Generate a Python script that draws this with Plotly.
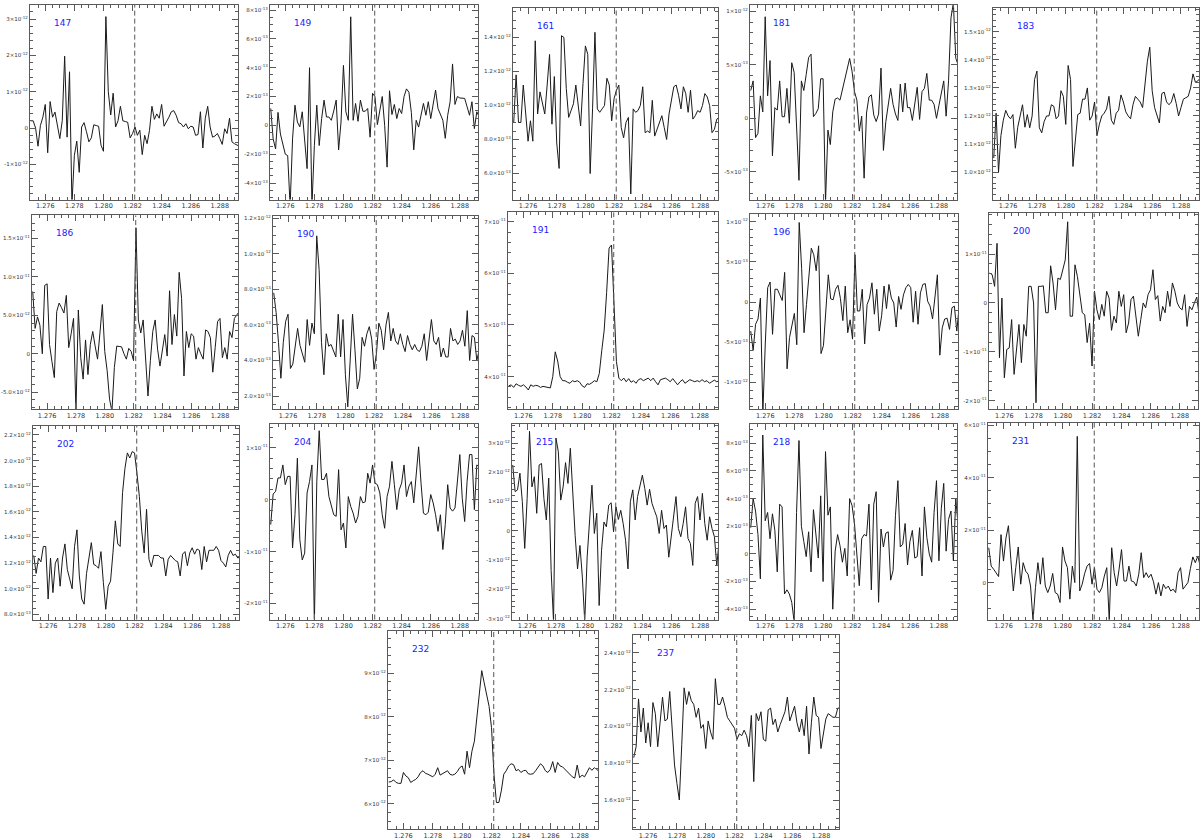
import numpy as np
import plotly.graph_objects as go

# ---------------- data ----------------
WAVE0 = 1.275            # first wavelength sample (micron)
DWAVE = 1.0 / 6000.0     # sampling step (micron)
XRANGE = [1.27495, 1.28925]
PA_BETA = 1.28215
XTICKVALS = [1.276, 1.278, 1.280, 1.282, 1.284, 1.286, 1.288]
XTICKTEXT = ["1.276", "1.278", "1.280", "1.282", "1.284", "1.286", "1.288"]

IDS = ["147", "149", "161", "181", "183", "186", "190", "191", "196", "200",
       "202", "204", "215", "218", "231", "232", "237"]

# flux values, in the unit given in UNITS
F147 = [0.2,0.2,0.0,-0.5,0.07,0.3,0.65,-0.68,0.73,0.3,0.44,0.1,-0.29,0.2,1.98,-0.25,1.55,-2.1,-0.75,-0.36,-1.22,0.03,0.15,-0.1,-0.38,-0.27,0.09,0.07,0.05,-0.47,-0.64,3.07,1.0,0.36,0.96,0.03,0.2,0.6,0.2,0.18,0.16,-0.27,-0.15,0.03,-0.2,-0.06,-0.73,-0.2,-0.43,-0.06,0.6,0.24,0.39,0.27,0.65,0.05,0.16,0.3,0.45,0.48,0.35,0.15,0.12,0.03,0.12,-0.02,0.05,0.03,-0.2,-0.18,0.45,-0.55,0.27,0.6,0.03,-0.25,-0.22,-0.15,-0.29,-0.45,-0.02,-0.15,0.27,-0.38,-0.43,-0.47,-0.5]
F149 = [1.17,-0.94,-1.64,0.9,-0.6,-1.3,-2.0,-2.1,-5.6,-0.94,1.4,0.23,-0.1,0.94,-1.05,-3.0,4.0,-5.6,-1.4,1.4,-1.4,0.47,1.75,0.58,0.58,0.35,1.0,1.75,-1.7,0.23,4.16,0.94,0.35,7.53,0.35,1.52,0.28,1.75,0.98,0.98,1.17,-0.82,2.22,1.99,0.05,1.0,2.0,0.0,-2.9,2.4,0.75,1.45,0.47,1.17,0.82,2.0,2.53,2.3,0.9,-1.7,0.35,-0.12,0.7,1.52,0.7,1.64,0.47,1.45,2.45,1.17,0.82,0.35,-0.9,0.7,1.64,4.26,1.45,2.0,1.9,1.87,1.87,1.29,0.7,1.64,-0.23,0.94,0.58]
F161 = [0.9,1.18,0.9,0.9,1.12,0.95,0.79,0.91,0.79,1.38,0.95,1.08,1.02,0.95,1.12,1.3,0.89,1.17,0.78,0.63,1.41,1.4,1.1,0.93,0.97,1.01,1.12,0.98,0.88,1.13,1.35,1.3,0.6,0.98,1.43,0.98,0.96,0.98,1.0,1.16,1.12,0.91,1.04,1.09,1.12,0.87,0.81,0.9,0.93,0.48,0.98,0.96,0.97,1.0,1.11,0.84,0.85,0.84,1.03,0.82,0.86,0.9,0.94,0.87,0.8,0.95,1.04,1.11,1.12,1.06,0.98,1.11,1.07,0.96,1.09,0.92,0.94,0.97,0.96,1.0,1.07,1.05,1.0,0.84,0.86,0.92,0.93]
F181 = [2.6,3.5,-1.8,-1.4,2.1,0.6,9.5,2.1,5.4,-3.5,1.0,0.77,3.5,0.15,0.15,2.8,-0.46,5.2,4.3,-0.86,-5.8,3.5,2.6,4.1,5.7,6.0,0.15,0.46,0.9,3.7,3.7,-7.9,-1.1,-2.45,0.6,1.8,1.9,1.7,2.7,3.7,4.6,5.6,4.4,2.5,1.7,-1.2,0.2,-5.6,0.5,2.0,2.2,0.3,-0.3,0.4,4.7,-3.0,-0.3,1.5,2.8,1.3,0.4,-0.2,3.2,0.6,3.3,1.0,1.0,-0.2,1.2,2.9,-0.1,2.5,2.8,4.2,1.7,1.7,1.3,0.0,1.2,2.4,3.5,0.2,3.5,9.4,10.8,5.6,5.0]
F183 = [1.05,1.21,1.0,1.13,1.185,1.22,1.2,1.19,1.205,1.085,1.16,1.2,1.24,1.16,1.205,1.158,1.2,1.33,1.36,1.158,1.14,1.18,1.2,1.2,1.24,1.235,1.19,1.2,1.29,1.27,1.17,1.38,1.33,1.02,1.12,1.205,1.21,1.26,1.26,1.3,1.185,1.2,1.25,1.13,1.17,1.2,1.21,1.225,1.27,1.185,1.17,1.21,1.22,1.275,1.25,1.215,1.2,1.19,1.24,1.27,1.26,1.25,1.23,1.31,1.395,1.445,1.29,1.23,1.2,1.175,1.28,1.285,1.25,1.24,1.25,1.28,1.245,1.2,1.23,1.26,1.265,1.27,1.3,1.35,1.32,1.325,1.335]
F186 = [8.1,3.3,4.8,3.7,0.0,8.9,9.1,1.2,-1.0,-3.1,5.5,6.6,6.0,5.3,7.6,0.8,2.6,4.6,-7.5,5.7,-0.5,-3.3,1.8,-2.7,1.2,2.9,1.0,-0.7,2.7,6.4,0.3,-2.2,-5.9,-7.5,-1.8,1.0,0.95,0.9,0.0,-0.7,0.7,0.3,-0.9,16.4,4.4,2.7,4.4,-0.5,-5.5,-0.9,2.9,4.4,0.6,-1.6,0.8,2.5,-0.3,8.2,1.2,5.1,2.3,10.6,7.2,-2.9,2.9,0.8,2.6,2.3,-0.7,0.8,0.0,-0.7,3.1,2.9,2.1,-2.4,0.8,4.2,4.6,-0.5,0.8,-0.7,2.9,2.1,4.6,5.1,5.5]
F190 = [0.78,0.67,0.5,0.30,0.5,0.62,0.66,0.355,0.38,0.48,0.58,0.485,0.44,0.39,0.63,0.485,0.61,0.55,1.10,0.91,0.5,0.32,0.55,0.48,0.49,0.46,0.42,0.66,0.42,0.63,0.32,0.14,0.4,0.66,0.46,0.24,0.30,0.53,0.48,0.55,0.59,0.52,0.35,0.44,0.61,0.57,0.46,0.6,0.67,0.51,0.58,0.51,0.49,0.55,0.49,0.45,0.54,0.49,0.46,0.49,0.46,0.45,0.48,0.55,0.4,0.5,0.63,0.51,0.49,0.53,0.42,0.47,0.42,0.42,0.58,0.51,0.52,0.49,0.51,0.57,0.48,0.68,0.4,0.54,0.53,0.4,0.46,0.55]
F191 = [3.82,3.84,3.79,3.86,3.83,3.81,3.84,3.8,3.74,3.84,3.81,3.83,3.82,3.79,3.81,3.8,3.79,3.78,4.0,4.48,4.3,4.0,3.92,3.92,3.89,3.87,3.92,3.9,3.92,3.89,3.82,3.79,3.86,3.85,3.88,3.92,3.9,4.06,4.5,4.9,5.63,6.49,6.55,5.5,4.29,3.97,3.92,3.97,3.9,3.96,3.89,3.92,3.87,3.94,3.96,3.92,3.94,3.97,3.92,3.97,3.9,3.84,3.94,3.96,3.97,3.94,3.9,3.96,3.9,3.84,3.9,3.94,3.87,3.9,3.94,3.92,3.9,3.92,3.9,3.94,3.9,3.92,3.87,3.9,3.93,3.9,3.92,3.9,3.9]
F196 = [-3.6,-6.0,-2.75,-2.1,0.5,-13.8,-5.2,1.8,2.5,-4.0,1.6,1.6,0.9,0.2,3.7,-8.3,-4.4,-3.0,-1.4,-5.3,9.9,4.2,-3.8,-0.3,3.4,6.7,5.9,3.9,7.0,-6.4,-5.4,-0.9,3.4,0.4,0.3,1.6,2.1,0.45,-2.3,2.0,-3.8,-2.2,-4.6,5.9,-1.1,-1.1,1.6,-5.2,-0.3,0.5,2.4,-1.5,1.6,-3.6,-1.7,2.0,-0.8,2.2,0.5,-0.1,-3.1,0.7,-0.9,0.9,1.8,2.2,1.8,-2.5,1.35,-2.75,1.15,2.2,2.3,0.1,-0.5,-2.1,0.7,3.4,-6.6,-3.2,-2.1,-2.0,-3.4,-0.7,-0.5,-3.6,-0.5,2.0,-0.5]
F200 = [6.1,5.8,3.4,12.2,-11.2,1.0,-15.3,-9.5,-9.2,-3.4,-14.6,-9.5,-4.4,-12.2,-4.4,-6.8,3.4,3.4,0.0,-20.4,3.4,3.4,3.5,-2.0,-2.0,7.6,4.1,-1.4,5.1,4.8,6.8,8.8,16.6,-2.7,-2.7,7.8,5.4,2.0,-2.0,-2.4,-8.1,-4.1,-12.9,2.4,-1.4,-3.4,-0.3,-2.7,2.4,1.0,-5.6,-2.7,-4.1,2.4,-0.7,1.7,-6.1,-4.1,0.7,1.4,-2.7,-6.8,-3.4,0.0,-1.0,1.7,2.7,6.8,0.7,1.5,-3.7,-0.7,-2.0,2.4,-0.7,4.1,2.4,0.0,-1.0,-1.4,1.7,-4.8,-0.7,-1.4,0.0,1.2,-2.7,0.3,0.0]
F202 = [1.26,1.12,1.24,1.21,1.33,1.33,0.92,1.24,0.97,1.2,1.24,1.02,1.24,1.35,1.15,1.08,1.0,1.33,1.46,1.1,0.92,0.88,1.12,1.24,1.36,1.19,1.18,1.16,1.29,1.05,0.84,1.02,1.06,1.28,1.53,1.35,1.33,1.75,1.94,2.06,2.02,2.07,2.06,1.9,1.72,1.45,1.28,1.62,1.23,1.17,1.26,1.26,1.26,1.24,1.24,1.1,1.23,1.26,1.24,1.22,1.21,1.1,1.27,1.29,1.18,1.28,1.32,1.27,1.31,1.3,1.15,1.33,1.21,1.3,1.3,1.3,1.33,1.3,1.22,1.2,1.17,1.26,1.3,1.26,1.27,1.24,1.25,1.22,1.24]
F204 = [-4.8,1.1,1.6,4.2,4.2,6.7,2.9,4.5,4.5,-9.3,-2.9,8.0,-7.7,-11.6,-10.3,1.3,3.5,6.7,-24.0,3.5,13.3,3.9,3.9,5.1,0.6,-1.3,-2.9,-3.2,5.8,-5.8,-4.5,-9.3,0.6,-1.3,-2.6,-4.5,-3.2,0.6,-0.6,-0.4,5.1,3.2,6.7,3.2,2.9,1.3,-2.9,-5.5,0.6,2.6,7.4,2.9,-1.9,1.9,3.2,6.7,0.6,2.6,3.5,-0.6,4.8,10.2,3.2,-2.6,-2.9,-2.4,1.0,-0.6,-2.9,-6.1,-2.9,-9.6,-4.8,2.9,-1.6,-2.2,-1.6,3.5,8.7,0.3,-4.2,3.5,8.7,8.7,-1.9,6.7,6.4,6.5,6.0]
F215 = [2.25,1.34,1.4,1.97,1.0,-0.6,1.1,3.4,1.5,1.85,0.6,2.25,2.3,1.1,0.37,1.8,-1.35,-3.1,3.17,2.7,1.05,1.5,2.33,1.62,2.82,1.22,-0.15,-1.3,-0.5,-1.58,-3.1,-0.9,0.2,1.56,-0.09,0.6,-2.55,-0.66,0.3,0.14,0.88,0.96,-0.03,0.82,0.39,0.7,0.25,-0.32,-1.3,1.0,1.4,0.37,1.17,1.56,1.9,1.45,0.88,1.42,0.94,0.7,0.48,-0.09,0.7,0.08,0.2,-0.9,-0.2,0.6,1.17,0.08,-0.2,0.25,0.82,-0.26,-0.43,-1.18,0.94,1.17,0.37,1.28,0.25,-0.32,0.48,0.08,-0.2,-1.18,-0.32,-0.2,0.1]
F218 = [1.9,4.0,3.1,1.4,-1.8,8.6,2.4,3.0,1.1,2.9,1.7,-1.3,3.6,3.4,-2.9,-2.6,-2.9,-3.5,-4.9,3.0,8.2,2.0,0.9,-0.2,1.6,-1.3,3.2,1.6,-0.3,4.2,-2.0,7.4,2.8,3.4,-4.0,0.2,1.4,0.6,-0.6,0.4,-1.6,4.0,3.5,2.2,0.0,-2.3,1.1,1.4,1.3,3.6,-2.6,3.6,4.5,-3.5,1.8,0.5,1.5,1.6,-1.9,-1.2,2.8,5.3,0.5,0.7,2.2,-0.8,0.9,1.7,-0.3,-0.2,1.9,-1.6,3.4,1.2,0.0,-0.6,3.0,5.3,-0.5,3.3,5.1,0.2,2.5,3.1,-0.5,4.0,2.0,2.0,1.8]
F231 = [13.3,6.3,5.1,3.8,2.3,18.3,8.2,17.0,21.7,8.8,-3.2,5.7,13.6,-0.6,7.6,4.4,3.2,-1.3,-14.5,-1.9,7.6,-0.6,9.5,-1.3,-3.8,-1.3,3.5,-3.8,-4.4,-7.6,13.6,8.2,5.7,-6.3,6.3,0.0,55.8,-3.2,-0.6,3.5,6.3,7.3,-0.6,5.7,-2.5,-3.8,-1.9,2.5,5.7,-14.5,13.3,3.8,-1.3,5.1,12.6,0.6,0.6,6.3,0.6,0.3,-1.3,3.2,11.4,1.9,3.8,1.9,3.2,0.3,-4.4,0.0,-5.1,-0.6,-2.3,-1.3,-3.2,-2.5,-3.8,3.8,5.7,-2.5,-1.3,0.0,5.3,9.8,7.6,10.1,6.3,7.0,6.5]
F232 = [6.5,6.51,6.55,6.49,6.47,6.47,6.72,6.64,6.6,6.49,6.53,6.56,6.62,6.72,6.76,6.7,6.68,6.64,6.62,6.68,6.83,6.66,6.7,6.74,6.76,6.68,6.66,6.68,6.74,6.83,6.87,6.68,7.21,6.83,7.21,7.44,7.98,8.51,9.06,8.78,8.47,8.24,7.75,6.68,6.03,6.03,6.3,6.68,6.76,6.87,6.92,6.9,6.76,6.79,6.72,6.76,6.77,6.69,6.68,6.69,6.76,6.83,6.92,6.87,6.76,6.72,6.79,6.97,6.72,6.95,6.87,6.85,6.79,6.74,6.68,6.62,6.59,6.89,6.6,6.66,6.62,6.72,6.83,6.77,6.83,6.79,6.74,6.72,6.7]
F237 = [1.83,1.89,2.15,1.97,2.1,1.91,2.02,1.89,2.13,2.07,1.89,2.05,2.16,2.03,2.04,2.19,1.99,1.79,1.69,1.6,1.9,2.21,2.12,2.19,2.14,2.12,2.05,2.1,1.99,2.01,1.88,2.03,1.97,1.93,2.26,2.12,2.12,2.16,2.11,2.05,2.03,2.01,1.99,1.93,1.96,1.95,1.98,1.95,1.89,2.06,1.7,2.07,2.03,2.08,1.93,1.92,2.09,2.1,2.01,2.04,1.97,2.01,2.05,2.08,2.16,2.03,2.07,2.11,2.02,1.97,2.04,1.95,2.11,1.85,2.02,2.16,2.06,2.05,1.88,1.97,2.04,2.07,2.06,2.05,2.05,2.1,2.1,2.12,2.1]

FLUX = {"147": F147, "149": F149, "161": F161, "181": F181, "183": F183,
        "186": F186, "190": F190, "191": F191, "196": F196, "200": F200,
        "202": F202, "204": F204, "215": F215, "218": F218, "231": F231,
        "232": F232, "237": F237}

UNITS = {"147": 1e-12, "149": 1e-13, "161": 1e-12, "181": 1e-13, "183": 1e-12,
         "186": 1e-12, "190": 1e-12, "191": 1e-11, "196": 1e-13, "200": 1e-12,
         "202": 1e-12, "204": 1e-12, "215": 1e-12, "218": 1e-13, "231": 1e-12,
         "232": 1e-12, "237": 1e-12}

# y ranges (in panel units)
YRANGE = {"147": [-1.97, 3.39], "149": [-5.15, 8.35], "161": [0.447, 1.573],
          "181": [-7.6, 10.6], "183": [0.902, 1.585], "186": [-7.2, 18.0],
          "190": [0.127, 1.209], "191": [3.37, 7.18], "196": [-13.3, 10.9],
          "200": [-21.7, 18.3], "202": [0.76, 2.27], "204": [-23.1, 14.6],
          "215": [-3.03, 3.65], "218": [-4.75, 9.4], "231": [-14.1, 60.9],
          "232": [5.42, 9.96], "237": [1.442, 2.495]}

# y tick values (panel units) and their labels: (mantissa, exponent)
YTICKVALS = {
    "147": [-1, 0, 1, 2, 3],
    "149": [-4, -2, 0, 2, 4, 6, 8],
    "161": [0.6, 0.8, 1.0, 1.2, 1.4],
    "181": [-5, 0, 5, 10],
    "183": [1.0, 1.1, 1.2, 1.3, 1.4, 1.5],
    "186": [-5, 0, 5, 10, 15],
    "190": [0.2, 0.4, 0.6, 0.8, 1.0, 1.2],
    "191": [4, 5, 6, 7],
    "196": [-10, -5, 0, 5, 10],
    "200": [-20, -10, 0, 10],
    "202": [0.8, 1.0, 1.2, 1.4, 1.6, 1.8, 2.0, 2.2],
    "204": [-20, -10, 0, 10],
    "215": [-3, -2, -1, 0, 1, 2, 3],
    "218": [-4, -2, 0, 2, 4, 6, 8],
    "231": [0, 20, 40, 60],
    "232": [6, 7, 8, 9],
    "237": [1.6, 1.8, 2.0, 2.2, 2.4],
}
YTICKLABELS = {
    "147": [("-1", "-12"), ("0", ""), ("1", "-12"), ("2", "-12"), ("3", "-12")],
    "149": [("-4", "-13"), ("-2", "-13"), ("0", ""), ("2", "-13"), ("4", "-13"), ("6", "-13"), ("8", "-13")],
    "161": [("6.0", "-13"), ("8.0", "-13"), ("1.0", "-12"), ("1.2", "-12"), ("1.4", "-12")],
    "181": [("-5", "-13"), ("0", ""), ("5", "-13"), ("1", "-12")],
    "183": [("1.0", "-12"), ("1.1", "-12"), ("1.2", "-12"), ("1.3", "-12"), ("1.4", "-12"), ("1.5", "-12")],
    "186": [("-5.0", "-12"), ("0", ""), ("5.0", "-12"), ("1.0", "-11"), ("1.5", "-11")],
    "190": [("2.0", "-13"), ("4.0", "-13"), ("6.0", "-13"), ("8.0", "-13"), ("1.0", "-12"), ("1.2", "-12")],
    "191": [("4", "-11"), ("5", "-11"), ("6", "-11"), ("7", "-11")],
    "196": [("-1", "-12"), ("-5", "-13"), ("0", ""), ("5", "-13"), ("1", "-12")],
    "200": [("-2", "-11"), ("-1", "-11"), ("0", ""), ("1", "-11")],
    "202": [("8.0", "-13"), ("1.0", "-12"), ("1.2", "-12"), ("1.4", "-12"), ("1.6", "-12"), ("1.8", "-12"), ("2.0", "-12"), ("2.2", "-12")],
    "204": [("-2", "-11"), ("-1", "-11"), ("0", ""), ("1", "-11")],
    "215": [("-3", "-12"), ("-2", "-12"), ("-1", "-12"), ("0", ""), ("1", "-12"), ("2", "-12"), ("3", "-12")],
    "218": [("-4", "-13"), ("-2", "-13"), ("0", ""), ("2", "-13"), ("4", "-13"), ("6", "-13"), ("8", "-13")],
    "231": [("0", ""), ("2", "-11"), ("4", "-11"), ("6", "-11")],
    "232": [("6", "-12"), ("7", "-12"), ("8", "-12"), ("9", "-12")],
    "237": [("1.6", "-12"), ("1.8", "-12"), ("2.0", "-12"), ("2.2", "-12"), ("2.4", "-12")],
}
YMINOR = {"147": 0.2, "149": 0.5, "161": 0.05, "181": 1.0, "183": 0.02,
          "186": 1.0, "190": 0.05, "191": 0.2, "196": 1.0, "200": 2.0,
          "202": 0.05, "204": 2.0, "215": 0.2, "218": 0.5, "231": 5.0,
          "232": 0.2, "237": 0.05}

# ---------------- layout (pixel boxes: left, right, top, bottom) ----------------
W, H = 1200, 840
BOX = {
    "147": (30, 238, 2, 198), "149": (270, 478, 2, 198), "161": (513, 718, 5, 198),
    "181": (750, 957, 2, 198), "183": (993, 1199, 5, 198),
    "186": (32, 238, 214, 409), "190": (273, 478, 215, 409), "191": (508, 718, 211, 409),
    "196": (750, 958, 213, 409), "200": (989, 1198, 212, 409),
    "202": (33, 239, 426, 621), "204": (270, 478, 424, 621), "215": (512, 718, 424, 621),
    "218": (750, 957, 424, 621), "231": (988, 1199, 423, 621),
    "232": (388, 598, 633, 832), "237": (633, 839, 637, 832),
}

AXC = "#5a5a5a"
FONT = "DejaVu Sans"
YFS = 5.5


def fmt_label(mant, expo):
    if not expo:
        return mant
    return mant + "×10<sup><span style=\"font-size:4px\">" + expo + "</span></sup>"


fig = go.Figure()
layout = dict(width=W, height=H, margin=dict(l=0, r=0, t=0, b=0),
              paper_bgcolor="white", plot_bgcolor="white", showlegend=False,
              font=dict(family=FONT, color="#333"))
annotations = []
shapes = []

for n, pid in enumerate(IDS, start=1):
    xs = "" if n == 1 else str(n)
    l, r, t, b = BOX[pid]
    vals = np.array(FLUX[pid], dtype=float)
    wave = WAVE0 + DWAVE * np.arange(len(vals))
    unit = UNITS[pid]
    fig.add_trace(go.Scatter(x=wave, y=vals * unit, mode="lines",
                             line=dict(color="#1a1a1a", width=1),
                             xaxis="x" + xs, yaxis="y" + xs, hoverinfo="skip"))
    layout["xaxis" + xs] = dict(
        domain=[l / W, r / W], anchor="y" + xs, range=XRANGE,
        tickmode="array", tickvals=XTICKVALS, ticktext=XTICKTEXT,
        ticks="inside", ticklen=6, tickwidth=1, tickcolor=AXC,
        showline=True, linecolor=AXC, linewidth=1, mirror="allticks",
        showgrid=False, zeroline=False,
        tickfont=dict(size=6.5, color="#333", family=FONT),
        minor=dict(tickmode="linear", tick0=1.276, dtick=0.0005, ticks="inside",
                   ticklen=3, tickcolor=AXC, showgrid=False),
    )
    yv = [v * unit for v in YTICKVALS[pid]]
    ytext = [fmt_label(m, e) for m, e in YTICKLABELS[pid]]
    layout["yaxis" + xs] = dict(
        domain=[1 - b / H, 1 - t / H], anchor="x" + xs,
        range=[YRANGE[pid][0] * unit, YRANGE[pid][1] * unit],
        tickmode="array", tickvals=yv, ticktext=ytext,
        ticks="inside", ticklen=6, tickwidth=1, tickcolor=AXC,
        showline=True, linecolor=AXC, linewidth=1, mirror="allticks",
        showgrid=False, zeroline=False,
        tickfont=dict(size=YFS, color="#333", family=FONT),
        minor=dict(tickmode="linear", tick0=0, dtick=YMINOR[pid] * unit, ticks="inside",
                   ticklen=3, tickcolor=AXC, showgrid=False),
    )
    shapes.append(dict(type="line", xref="x" + xs, yref="y" + xs + " domain",
                       x0=PA_BETA, x1=PA_BETA, y0=0, y1=1,
                       line=dict(color="#555", width=1, dash="5px,3px"), layer="above"))
    annotations.append(dict(text=pid, xref="paper", yref="paper",
                            x=(l + 32) / W, y=1 - (t + 18) / H,
                            xanchor="center", yanchor="middle", showarrow=False,
                            font=dict(size=9, color="#2020ff", family=FONT)))

layout["shapes"] = shapes
layout["annotations"] = annotations
fig.update_layout(**layout)
fig.write_html("out.html", config={"displayModeBar": False},
               post_script="document.body.style.margin='0';document.body.style.overflow='hidden';")
